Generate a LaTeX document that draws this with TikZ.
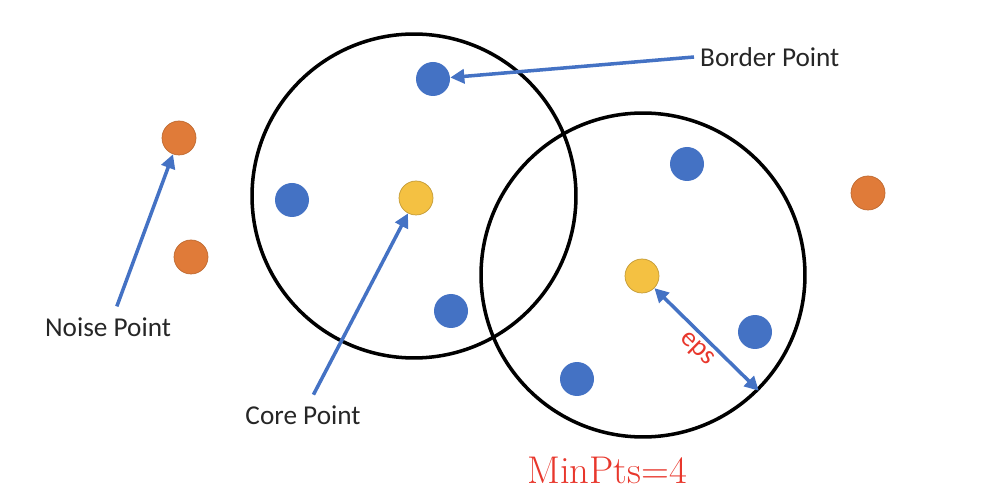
\documentclass[tikz,border=0pt]{standalone}
\usepackage{fontspec}
\newfontfamily\calib{Carlito}
\usetikzlibrary{arrows.meta}
\definecolor{ptblue}{HTML}{4472C4}
\definecolor{ptorange}{HTML}{E07B39}
\definecolor{ptyellow}{HTML}{F4C142}
\definecolor{epsred}{HTML}{E8372C}
\tikzset{
  nbhd/.style={circle,draw=black,line width=2pt,minimum size=6.48cm,inner sep=0pt},
  dot/.style={circle,minimum size=0.68cm,inner sep=0pt},
  border/.style={dot,fill=ptblue},
  core/.style={dot,fill=ptyellow,draw=ptyellow!80!black,line width=0.4pt},
  noise/.style={dot,fill=ptorange,draw=ptorange!85!black,line width=0.4pt},
  lbl/.style={font=\calib\fontsize{15.5}{18}\selectfont,text=black!85},
  pointer/.style={draw=ptblue,line width=2pt,-{Triangle[length=8pt,width=8pt]}},
}
\begin{document}
\begin{tikzpicture}[x=0.02cm,y=-0.02cm]
\useasboundingbox (0,0) rectangle (990,502);
% neighbourhoods
\node[nbhd] (nbhd1) at (414,196) {};
\node[nbhd] (nbhd2) at (643,275) {};
% points
\node[border] (b1) at (433,79) {};
\node[border] (b2) at (292,200) {};
\node[border] (b3) at (451,311) {};
\node[border] (b4) at (687,164) {};
\node[border] (b5) at (755,332) {};
\node[border] (b6) at (577,379) {};
\node[core] (c1) at (416,198) {};
\node[core] (c2) at (642,276) {};
\node[noise] (n1) at (179,138) {};
\node[noise] (n2) at (191,257) {};
\node[noise] (n3) at (868,193) {};
% labels
\node[lbl,anchor=west] (borderlbl) at (694,57) {Border Point};
\node[lbl] (noiselbl) at (108,327) {Noise Point};
\node[lbl] (corelbl) at (303,415) {Core Point};
\draw[pointer] (borderlbl.west) -- (b1);
\draw[pointer,shorten <=3pt] (noiselbl.north) ++(7,0) -- (n1);
\draw[pointer,shorten <=3pt] (corelbl.north) ++(8,0) -- (c1);
% eps
\draw[draw=ptblue,line width=2pt,{Triangle[length=8pt,width=8pt]}-{Triangle[length=8pt,width=8pt]}] (c2) -- node[sloped,below,lbl,text=epsred,inner sep=2pt] {eps} (nbhd2.-45);
\node[text=epsred,font=\fontsize{22}{26}\selectfont] (minpts) at (607,470) {MinPts=4};
\end{tikzpicture}
\end{document}
